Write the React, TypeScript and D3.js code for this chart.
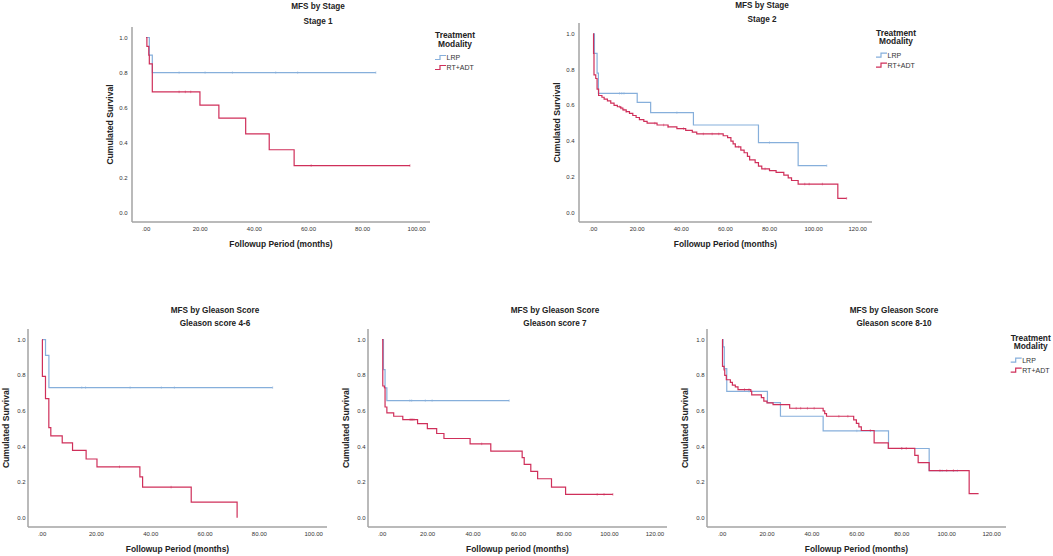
import { useEffect, useRef } from 'react';
import * as d3 from 'd3';

type Step = [number, number];

const groups = ['LRP', 'RT+ADT'];
const groupColors = ['#86afdb', '#cf2f5a'];
const yTicks = [0, 0.2, 0.4, 0.6, 0.8, 1.0];
const xTicks100 = [0, 20, 40, 60, 80, 100];
const xTicks120 = [0, 20, 40, 60, 80, 100, 120];

// Stage 1
const stage1LRP: Step[] = [[0, 1], [1.2, 0.9], [2.3, 0.8], [84.9, 0.8]];
const stage1LRPCens = [12.2, 21.8, 31.9, 47.9, 56, 84.9];
const stage1RT: Step[] = [
  [0, 1], [0.3, 0.95], [1.0, 0.9], [1.2, 0.85], [2.3, 0.69], [19.9, 0.615],
  [26.9, 0.54], [36.8, 0.45], [45.5, 0.36], [54.7, 0.27], [97.5, 0.27],
];
const stage1RTCens = [12.2, 14.5, 16.5, 61, 97.5];

// Stage 2
const stage2LRP: Step[] = [
  [0, 1], [0.6, 0.89], [1.8, 0.78], [2.4, 0.667], [20, 0.617], [26.1, 0.559],
  [45.5, 0.49], [75, 0.392], [93, 0.263], [106, 0.263],
];
const stage2LRPCens = [12, 13, 14, 38, 80, 106];
const stage2RT: Step[] = [
  [0, 1], [0.2, 0.89], [0.4, 0.77], [1.2, 0.75], [1.8, 0.69], [2.5, 0.655],
  [4, 0.645], [5, 0.635], [6.5, 0.625], [8, 0.612], [9.5, 0.6], [11, 0.592],
  [12.5, 0.585], [13.5, 0.575], [15, 0.565], [16.5, 0.555], [18, 0.543],
  [19.5, 0.532], [21, 0.52], [23, 0.51], [24.5, 0.5], [29, 0.49], [34, 0.48],
  [38, 0.47], [42, 0.46], [45, 0.45], [47, 0.44], [59, 0.43], [61, 0.42],
  [62.5, 0.4], [63.5, 0.385], [64.5, 0.368], [67, 0.35], [68.5, 0.335],
  [70, 0.315], [71, 0.295], [73.5, 0.28], [75, 0.26], [76.5, 0.245],
  [80, 0.235], [83, 0.225], [86.5, 0.21], [88.5, 0.195], [90, 0.18],
  [93, 0.16], [111, 0.08], [115, 0.08],
];
const stage2RTCens = [12, 12.5, 13, 14, 15, 28, 32, 34, 41, 50, 54, 57, 66, 78, 96, 98, 104, 115];

// Gleason 4-6
const gl46LRP: Step[] = [[0, 1], [1.25, 0.912], [2.5, 0.731], [84.9, 0.731]];
const gl46LRPCens = [14.6, 16, 32.4, 43.9, 48.7, 84.9];
const gl46RT: Step[] = [
  [0, 1], [0.1, 0.794], [1.24, 0.669], [2.47, 0.506], [3.2, 0.46], [7.4, 0.42],
  [11.2, 0.378], [16.2, 0.33], [20.2, 0.286], [36, 0.23], [37, 0.172],
  [54.9, 0.088], [71.8, 0],
];
const gl46RTCens = [28.5, 47.5];

// Gleason 7
const gl7LRP: Step[] = [[0, 1], [0.6, 0.832], [1.3, 0.729], [2.1, 0.658], [55.9, 0.658]];
const gl7LRPCens = [12.2, 13, 19, 22, 55.9];
const gl7RT: Step[] = [
  [0, 1], [0.3, 0.74], [1.0, 0.73], [1.3, 0.622], [2.1, 0.589], [5.1, 0.57],
  [9.1, 0.551], [15.6, 0.529], [19.9, 0.5], [24, 0.473], [27.2, 0.445],
  [38.7, 0.415], [47.8, 0.374], [61.6, 0.338], [62.5, 0.3], [65.4, 0.26],
  [68.4, 0.219], [74.5, 0.172], [80.7, 0.131], [101.5, 0.131],
];
const gl7RTCens = [12.3, 12.8, 13.3, 14, 43.8, 94.6, 97.6, 101.5];

// Gleason 8-10
const gl810LRP: Step[] = [
  [0, 1], [0.45, 0.96], [1.0, 0.837], [2.1, 0.71], [20.2, 0.647], [26, 0.57],
  [45, 0.488], [74.1, 0.389], [92.2, 0.264], [104.8, 0.264],
];
const gl810LRPCens = [12, 60, 80, 98, 104.8];
const gl810RT: Step[] = [
  [0, 1], [0.2, 0.85], [0.9, 0.83], [1.2, 0.8], [1.9, 0.775], [3.7, 0.76],
  [4.6, 0.745], [5.9, 0.735], [7.1, 0.72], [12.8, 0.71], [13.2, 0.69],
  [17.5, 0.675], [18.6, 0.655], [20, 0.645], [22.7, 0.635], [30.1, 0.615],
  [45, 0.6], [45.7, 0.585], [46.5, 0.57], [58.6, 0.55], [59.8, 0.53],
  [60.9, 0.51], [62, 0.49], [67.7, 0.42], [74, 0.39], [85.8, 0.35],
  [87.3, 0.31], [92.2, 0.265], [110, 0.135], [114.2, 0.135],
];
const gl810RTCens = [10, 12, 33, 35, 38, 41, 52, 56, 66, 80, 82, 97, 100, 103];

interface Panel {
  title: string;
  subtitle: string;
  xLabel: string;
  xTicks: number[];
  series: Step[][];
  censored: number[][];
  box: { left: number; right: number; top: number; bottom: number };
  xDomain: [number, number];
  titleX: number;
  titleY: [number, number];
  xLabelY: number;
  yTickGap: number;
  legend?: { x: number; y: number };
}

const panels: Panel[] = [
  {
    title: 'MFS by Stage', subtitle: 'Stage 1', xLabel: 'Followup Period (months)',
    xTicks: xTicks100, series: [stage1LRP, stage1RT], censored: [stage1LRPCens, stage1RTCens],
    box: { left: 132, right: 430, top: 27, bottom: 222 }, xDomain: [-5.2, 104.9],
    titleX: 318, titleY: [8.5, 24], xLabelY: 247, yTickGap: 4.3, legend: { x: 435, y: 38 },
  },
  {
    title: 'MFS by Stage', subtitle: 'Stage 2', xLabel: 'Followup Period (months)',
    xTicks: xTicks120, series: [stage2LRP, stage2RT], censored: [stage2LRPCens, stage2RTCens],
    box: { left: 579, right: 872, top: 23, bottom: 222 }, xDomain: [-6.4, 126.5],
    titleX: 762, titleY: [8, 21.7], xLabelY: 247, yTickGap: 4.3, legend: { x: 876, y: 35.7 },
  },
  {
    title: 'MFS by Gleason Score', subtitle: 'Gleason score 4-6', xLabel: 'Followup Period (months)',
    xTicks: xTicks100, series: [gl46LRP, gl46RT], censored: [gl46LRPCens, gl46RTCens],
    box: { left: 28, right: 327, top: 329, bottom: 527 }, xDomain: [-5.2, 104.9],
    titleX: 215, titleY: [313, 326], xLabelY: 551.5, yTickGap: 2.5,
  },
  {
    title: 'MFS by Gleason Score', subtitle: 'Gleason score 7', xLabel: 'Followup period (months)',
    xTicks: xTicks120, series: [gl7LRP, gl7RT], censored: [gl7LRPCens, gl7RTCens],
    box: { left: 368, right: 667, top: 329, bottom: 527 }, xDomain: [-6.2, 125.3],
    titleX: 555, titleY: [313, 326], xLabelY: 551.5, yTickGap: 2.5,
  },
  {
    title: 'MFS by Gleason Score', subtitle: 'Gleason score 8-10', xLabel: 'Followup Period (months)',
    xTicks: xTicks120, series: [gl810LRP, gl810RT], censored: [gl810LRPCens, gl810RTCens],
    box: { left: 707, right: 1006, top: 329, bottom: 527 }, xDomain: [-6.7, 126.4],
    titleX: 894, titleY: [313, 326], xLabelY: 551.5, yTickGap: 2.5, legend: { x: 1010.7, y: 340.7 },
  },
];

const FONT = '"Liberation Sans", Arial, sans-serif';
const AXIS = '#a3a3a3';

function survivalAt(steps: Step[], t: number) {
  let s = steps[0][1];
  for (const [time, value] of steps) {
    if (time <= t) s = value;
  }
  return s;
}

export default function App() {
  const svgRef = useRef<SVGSVGElement>(null);

  useEffect(() => {
    if (!svgRef.current) return;
    const svg = d3.select(svgRef.current);
    svg.selectAll('*').remove();

    svg.append('rect').attr('width', 1053).attr('height', 556).attr('fill', '#fff');

    panels.forEach(p => {
      const g = svg.append('g');
      const { left, right, top, bottom } = p.box;

      const x = d3.scaleLinear().domain(p.xDomain).range([left, right]);
      const y = d3.scaleLinear().domain([-0.052, 1.06]).range([bottom, top]);

      // Titles
      g.append('text')
        .attr('x', p.titleX).attr('y', p.titleY[0])
        .attr('text-anchor', 'middle')
        .attr('font-family', FONT).attr('font-size', 8.2).attr('font-weight', 'bold')
        .attr('fill', '#222')
        .text(p.title);
      g.append('text')
        .attr('x', p.titleX).attr('y', p.titleY[1])
        .attr('text-anchor', 'middle')
        .attr('font-family', FONT).attr('font-size', 8.2).attr('font-weight', 'bold')
        .attr('fill', '#222')
        .text(p.subtitle);

      // Axis lines
      g.append('line')
        .attr('x1', left).attr('x2', left).attr('y1', top).attr('y2', bottom)
        .attr('stroke', AXIS).attr('stroke-width', 1.5);
      g.append('line')
        .attr('x1', left).attr('x2', right).attr('y1', bottom).attr('y2', bottom)
        .attr('stroke', AXIS).attr('stroke-width', 1.5);

      // Tick labels
      g.selectAll('.ytick')
        .data(yTicks)
        .enter()
        .append('text')
        .attr('x', left - p.yTickGap)
        .attr('y', d => y(d))
        .attr('dy', '0.35em')
        .attr('text-anchor', 'end')
        .attr('font-family', FONT).attr('font-size', 6).attr('fill', '#333')
        .text(d => d3.format('.1f')(d));

      g.selectAll('.xtick')
        .data(p.xTicks)
        .enter()
        .append('text')
        .attr('x', d => x(d))
        .attr('y', bottom + 8.5)
        .attr('text-anchor', 'middle')
        .attr('font-family', FONT).attr('font-size', 6).attr('fill', '#333')
        .text(d => (d === 0 ? '.00' : d3.format('.2f')(d)));

      // Axis titles
      g.append('text')
        .attr('transform', `translate(${left - 19.5},${(top + bottom) / 2}) rotate(-90)`)
        .attr('text-anchor', 'middle')
        .attr('font-family', FONT).attr('font-size', 8.6).attr('font-weight', 'bold')
        .attr('fill', '#222')
        .text('Cumulated Survival');
      g.append('text')
        .attr('x', (left + right) / 2).attr('y', p.xLabelY)
        .attr('text-anchor', 'middle')
        .attr('font-family', FONT).attr('font-size', 8.4).attr('font-weight', 'bold')
        .attr('fill', '#222')
        .text(p.xLabel);

      // Survival curves
      const line = d3.line<Step>()
        .x(d => x(d[0]))
        .y(d => y(d[1]))
        .curve(d3.curveStepAfter);

      p.series.forEach((steps, i) => {
        g.append('path')
          .datum(steps)
          .attr('fill', 'none')
          .attr('stroke', groupColors[i])
          .attr('stroke-width', 1.2)
          .attr('d', line);

        g.selectAll(`.cens-${i}`)
          .data(p.censored[i])
          .enter()
          .append('line')
          .attr('x1', d => x(d)).attr('x2', d => x(d))
          .attr('y1', d => y(survivalAt(steps, d)) - 1.3)
          .attr('y2', d => y(survivalAt(steps, d)) + 1.3)
          .attr('stroke', groupColors[i])
          .attr('stroke-opacity', 0.8)
          .attr('stroke-width', 0.6);
      });

      // Legend
      if (p.legend) {
        const { x: lx, y: ly } = p.legend;
        const lg = g.append('g');
        lg.append('text')
          .attr('x', lx + 20).attr('y', ly)
          .attr('text-anchor', 'middle')
          .attr('font-family', FONT).attr('font-size', 8.4).attr('font-weight', 'bold')
          .attr('fill', '#222')
          .text('Treatment');
        lg.append('text')
          .attr('x', lx + 20).attr('y', ly + 8.6)
          .attr('text-anchor', 'middle')
          .attr('font-family', FONT).attr('font-size', 8.4).attr('font-weight', 'bold')
          .attr('fill', '#222')
          .text('Modality');

        groups.forEach((name, i) => {
          const base = ly + 22 + i * 10;
          lg.append('path')
            .attr('d', `M${lx},${base - 0.5}H${lx + 5}V${base - 4.5}H${lx + 11}`)
            .attr('fill', 'none')
            .attr('stroke', groupColors[i])
            .attr('stroke-width', 1.2);
          lg.append('text')
            .attr('x', lx + 11.5).attr('y', base)
            .attr('font-family', FONT).attr('font-size', 7).attr('fill', '#333')
            .text(name);
        });
      }
    });
  }, []);

  return (
    <div style={{ position: 'absolute', left: 0, top: 0 }}>
      <svg ref={svgRef} width={1053} height={556} style={{ display: 'block' }} />
    </div>
  );
}
